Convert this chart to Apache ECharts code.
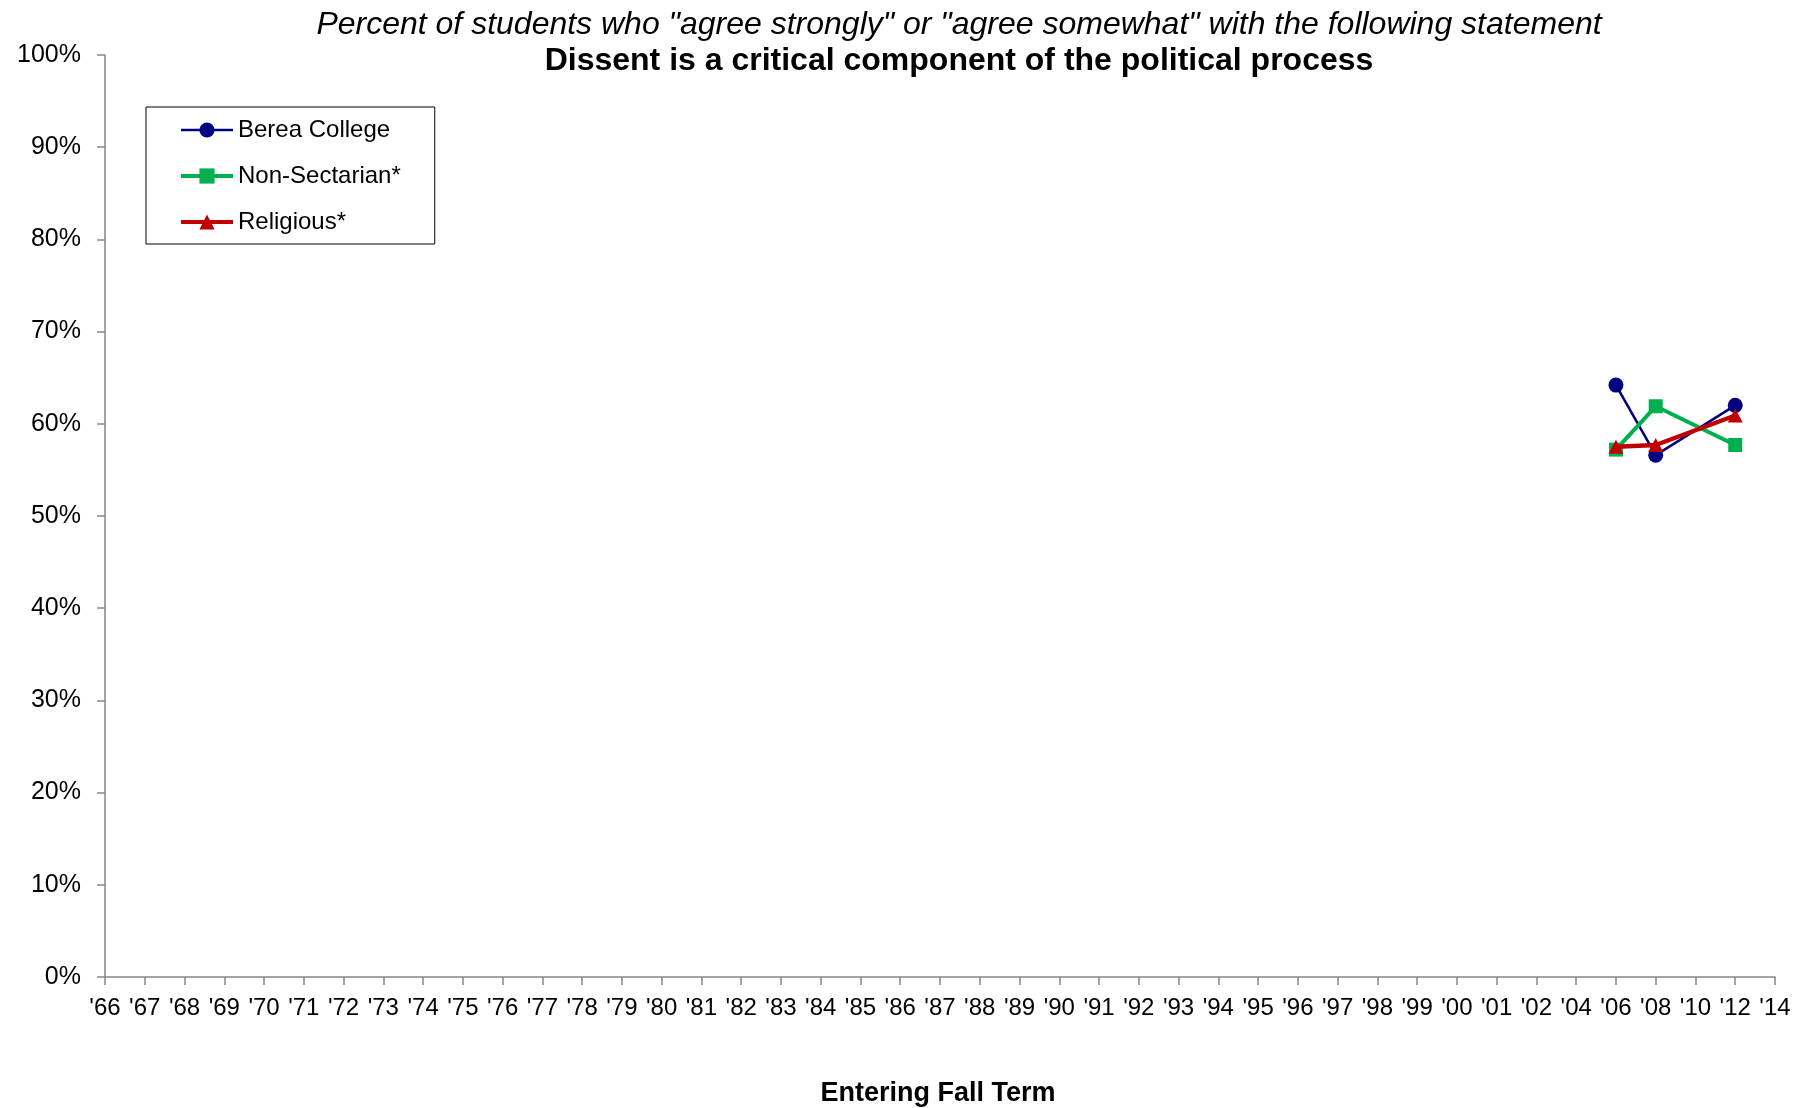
<!DOCTYPE html>
<html>
<head>
<meta charset="utf-8">
<script src="https://cdn.jsdelivr.net/npm/echarts@6/dist/echarts.min.js"></script>
<style>
html,body{margin:0;padding:0;background:#fff;}
#chart{width:1812px;height:1108px;}
</style>
</head>
<body>
<div id="chart"></div>
<script>
var categories = ["'66","'67","'68","'69","'70","'71","'72","'73","'74","'75","'76","'77","'78","'79","'80","'81","'82","'83","'84","'85","'86","'87","'88","'89","'90","'91","'92","'93","'94","'95","'96","'97","'98","'99","'00","'01","'02","'04","'06","'08","'10","'12","'14"];
var dataYears = ["'06","'08","'12"];
var bereaCollege = [64.2, 56.6, 62.0];
var nonSectarian = [57.2, 61.9, 57.7];
var religious = [57.5, 57.7, 60.9];
var yTicks = [0, 10, 20, 30, 40, 50, 60, 70, 80, 90, 100];

var FONT = "'Liberation Sans', Arial, sans-serif";

function pairs(vals){ return dataYears.map(function(y,i){ return [y, vals[i]]; }); }

var chart = echarts.init(document.getElementById('chart'), null, {renderer:'canvas'});
chart.setOption({
  animation:false,
  backgroundColor:'#ffffff',
  textStyle:{fontFamily:FONT},
  grid:{left:105, right:37, top:55, bottom:131, containLabel:false},
  graphic:[
    {type:'text', x:959, y:25, style:{text:'Percent of students who "agree strongly" or "agree somewhat" with the following statement', font:'italic 32px ' + FONT, fill:'#000', align:'center', verticalAlign:'middle'}},
    {type:'text', x:959, y:61, style:{text:'Dissent is a critical component of the political process', font:'bold 32px ' + FONT, fill:'#000', align:'center', verticalAlign:'middle'}},
    {type:'text', x:938, y:1094, style:{text:'Entering Fall Term', font:'bold 27px ' + FONT, fill:'#000', align:'center', verticalAlign:'middle'}}
  ],
  legend:{
    orient:'vertical', left:146, top:107,
    padding:[11,34,10,33],
    itemGap:22, itemWidth:52, itemHeight:19,
    borderColor:'#000', borderWidth:1,
    textStyle:{fontSize:24, color:'#000', fontFamily:FONT, padding:[0,0,0,0]},
    data:[
      {name:'Berea College', lineStyle:{width:2.5}},
      {name:'Non-Sectarian*', lineStyle:{width:4}},
      {name:'Religious*', lineStyle:{width:4}}
    ]
  },
  xAxis:{
    type:'category', data:categories, boundaryGap:false,
    axisLine:{lineStyle:{color:'#868686', width:1.5}},
    axisTick:{show:true, length:8, interval:0, lineStyle:{color:'#868686', width:1.5}},
    axisLabel:{interval:0, fontSize:24, color:'#000', margin:19, fontFamily:FONT},
    splitLine:{show:false}
  },
  yAxis:{
    type:'value', min:0, max:100, interval:10,
    axisLine:{show:true, lineStyle:{color:'#868686', width:1.5}},
    axisTick:{show:true, length:8, lineStyle:{color:'#868686', width:1.5}},
    axisLabel:{formatter:'{value}%', fontSize:25, color:'#000', margin:24, fontFamily:FONT},
    splitLine:{show:false}
  },
  series:[
    {name:'Berea College', type:'line', data:pairs(bereaCollege), symbol:'circle', symbolSize:15,
     lineStyle:{color:'#000080', width:2.5}, itemStyle:{color:'#000080'}, z:3},
    {name:'Non-Sectarian*', type:'line', data:pairs(nonSectarian), symbol:'rect', symbolSize:14,
     lineStyle:{color:'#00B050', width:4}, itemStyle:{color:'#00B050'}, z:4},
    {name:'Religious*', type:'line', data:pairs(religious), symbol:'triangle', symbolSize:[15,14],
     lineStyle:{color:'#C00000', width:4.5}, itemStyle:{color:'#C00000'}, z:5}
  ]
});
</script>
</body>
</html>
